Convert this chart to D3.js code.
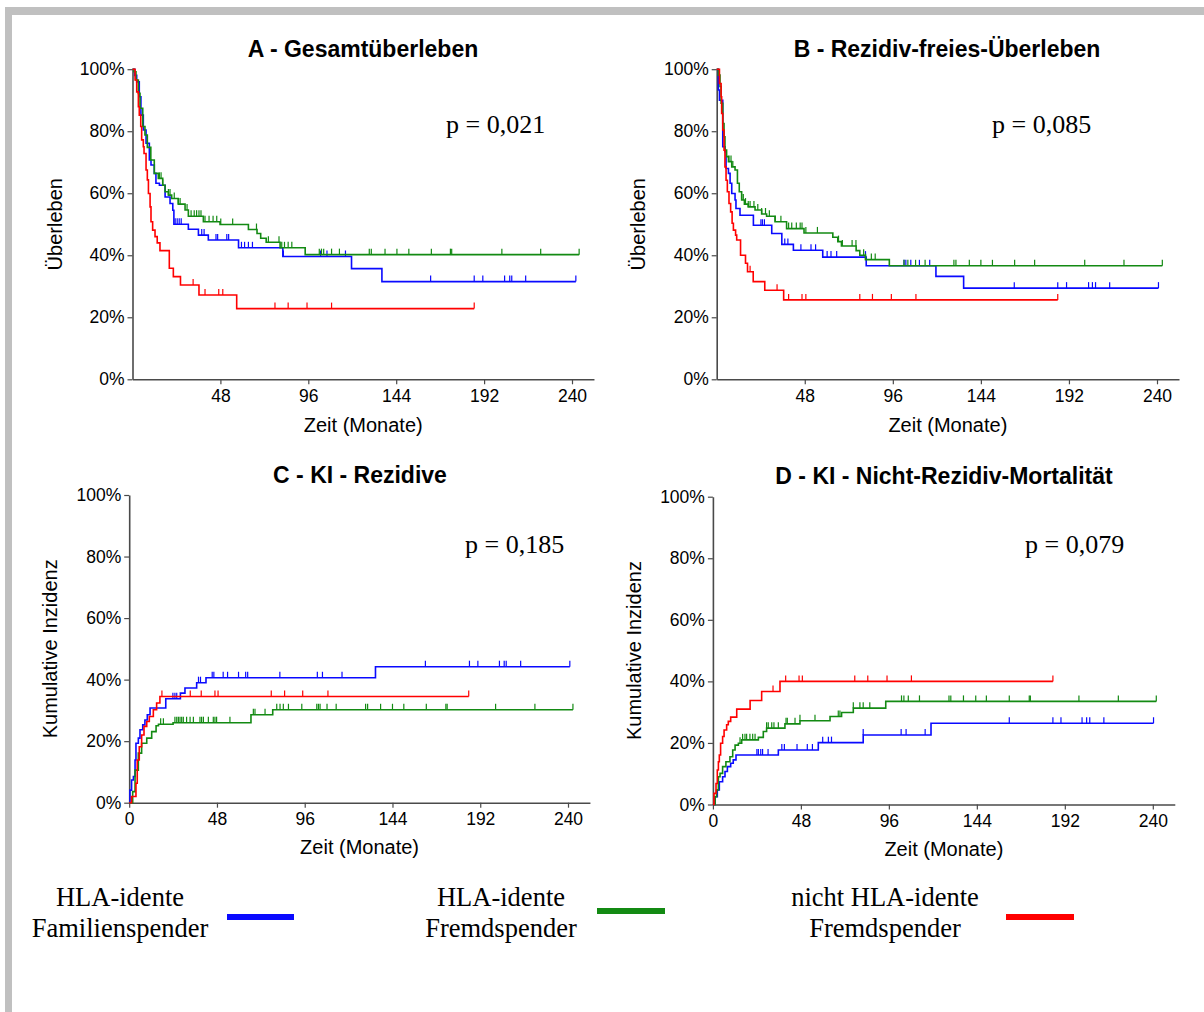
<!DOCTYPE html>
<html>
<head>
<meta charset="utf-8">
<script src="https://cdn.jsdelivr.net/npm/d3@7"></script>
<style>
body { margin: 0; background: #fff; }
svg text { font-family: "Liberation Sans", Arial, sans-serif; }
</style>
</head>
<body>
<svg id="chart" width="1204" height="1012"></svg>
<script>
// ---- data (months, percent) ----
var panelTitles = ["A - Gesamtüberleben", "B - Rezidiv-freies-Überleben", "C - KI - Rezidive", "D - KI - Nicht-Rezidiv-Mortalität"]
var pValues = ["p = 0,021", "p = 0,085", "p = 0,185", "p = 0,079"]
var yAxisTitles = ["Überleben", "Überleben", "Kumulative Inzidenz", "Kumulative Inzidenz"]
var xAxisTitle = "Zeit (Monate)"
var xTicksSurv = [48, 96, 144, 192, 240]
var xTicksInc = [0, 48, 96, 144, 192, 240]
var yTickValues = [0, 20, 40, 60, 80, 100]

var legendLabels = [["HLA-idente", "Familienspender"], ["HLA-idente", "Fremdspender"], ["nicht HLA-idente", "Fremdspender"]]
var seriesColors = ["#0a0aff", "#138a13", "#ff0000"]

// A - Gesamtueberleben
var aBlue = [[0,100],[1.2,98],[2.3,95.9],[3.7,91.1],[4.6,85.2],[5.9,80.4],[7.4,76.1],[9.2,70.7],[10.1,69.1],[11.9,66.4],[12.8,63.2],[14.7,62.6],[17.8,58.8],[20.5,56.7],[22,54.5],[22.6,50],[30.5,48.4],[36,46.5],[41.4,44.9],[57.9,42.4],[82.1,39.6],[119.6,35.7],[136.2,31.5],[242.1,31.5]]
var aGreen = [[0,100],[0.8,99.2],[1.9,96.5],[3.2,92.2],[4.1,87.4],[5.6,81.5],[6.8,78.8],[8.1,74.8],[10,70.7],[11.9,66.4],[14.1,64.8],[16.5,62.6],[17.8,60.5],[19.6,59.4],[21.4,58.3],[25,56.5],[28.7,54.6],[30.5,52.6],[38.7,50.8],[47.8,49.9],[63.3,48.3],[68,47],[70,45.5],[73,44.2],[80.6,42.4],[94.3,40.2],[243.9,40.2]]
var aRed = [[0,100],[1.4,96.5],[2.3,92.7],[3.2,87.9],[3.7,85.2],[4.5,81.5],[5,77.2],[5.9,75],[6.3,72.8],[7.4,67.5],[8.1,64.3],[8.7,59.9],[9.6,55.6],[10.1,50.8],[11,48.1],[12.3,46],[13.5,44],[15,41.5],[20.1,35.8],[22.3,33.1],[26.2,30.4],[36.3,27.2],[56.9,22.8],[186.6,22.8]]
var aBlueCens = [23.3,24.4,25.5,26.6,37.8,39.1,45.6,46.5,51.5,52.5,59.5,61.2,63.3,65.5,82.4,102.7,106.2,116.3,162.8,186.6,191.3,203.2,206,207.1,214.7,242.1]
var aGreenCens = [14.7,15.6,16.5,19.6,20.5,22.8,25,26,29.8,32,33.7,35,36.3,37.4,39.6,41.8,44,46,48.2,54.7,67.7,74.2,80,81.5,83,85,87,102,103.2,104.4,108.7,113,129.3,130.4,137.9,144.4,150.9,163.2,173.6,174.3,201.7,222.9,243.9]
var aRedCens = [33.1,39.6,47.1,49.3,77.8,85,95.3,108.7,186.6]

// B - Rezidiv-freies Ueberleben
var bBlue = [[0,100],[0.9,93.3],[1.5,90],[3.3,75],[4.5,73.4],[5.1,68],[6.4,66.4],[7.3,63.2],[8.2,59.9],[10,57.8],[10.5,55.1],[12.7,52.9],[20,49.7],[30,47],[35.5,43.5],[41.8,41.6],[57.8,39.4],[81.5,36.6],[119.5,33.2],[134.6,29.4],[240.8,29.4]]
var bGreen = [[0,100],[0.9,98.1],[1.8,94.4],[2.4,89],[3.3,82.5],[4,78.2],[4.5,73.9],[5.4,71.8],[6.4,70.2],[8.2,68.5],[10,67.5],[11.3,63.2],[12.3,60.5],[13.6,57.8],[15.1,56.5],[17.2,55.6],[20.9,54.6],[24.5,53.3],[27.2,52.6],[31.8,50.8],[38.1,48.6],[47.6,47.2],[63.3,45.8],[66,44.4],[68,43],[76,41.5],[78,40],[81.1,38.6],[94.1,36.6],[242.9,36.6]]
var bRed = [[0,100],[1.5,95.4],[2.4,91.1],[2.7,85.7],[3.3,80.4],[4,73.9],[4.5,68.5],[5.1,64.2],[5.8,60.5],[6.7,56.7],[7.6,54],[8.4,50.3],[9.1,48.1],[10.3,46.5],[10.9,44.9],[13,40],[15.7,37.4],[16.8,34.7],[19.9,31.5],[26.2,28.7],[36.5,25.6],[185.9,25.6]]
var bBlueCens = [24.1,24.9,26,37.1,38.8,45.9,51.4,53.9,60.2,62.3,65.4,81.1,102.1,103.1,105.8,110.5,116.1,162.2,185.9,190.7,202.7,204.8,206.5,214.2,240.8]
var bGreenCens = [6.7,7.8,8.8,13.6,14.5,15.7,17.2,18.2,20.3,22.4,24.5,26.6,28.7,31.9,35,39.2,40.9,43.4,45.5,46.5,48.6,54.9,66.4,68.5,73.8,75.9,80.1,81.1,84.3,86.4,102.1,104.2,108.4,113.6,129.3,130.4,137.7,144,150.3,162.4,173.3,200.6,222,242.9]
var bRedCens = [18.2,32.9,39.2,46.5,48.6,78,84.9,95.2,108.6,185.9]

// C - KI Rezidive
var cBlue = [[0,0],[0.4,4.1],[1.3,7.4],[2.3,8.5],[3.2,13.9],[3.7,19.3],[5,21],[5.9,23.7],[7.4,25.3],[8.6,26.9],[9.9,28.6],[11.4,30.8],[20,33.8],[28,35.6],[30.5,37.3],[36.9,39],[42,40.6],[134.7,44.2],[241,44.2]]
var cGreen = [[0,0],[1.9,3.6],[3.2,10.6],[5,16.1],[6.8,19.3],[9.6,21],[12.3,23.1],[14.7,25],[16,25.5],[24,26],[66.6,28.6],[78.5,30.2],[242.7,30.2]]
var cRed = [[0,0],[1.3,2],[3.7,6.3],[4.4,13.9],[5.5,18.2],[6.8,22],[8.1,24.8],[9.6,26.4],[11,28],[13.2,30.2],[15,32.4],[16.8,34.5],[185.7,34.5]]
var cBlueCens = [23.9,25,26,37.9,39,45.4,46.3,51.4,53.8,59.8,63.7,64.8,82.4,102.9,105.7,116.4,162,186.1,190.7,202.5,205.1,206.2,214.1,241]
var cGreenCens = [17.2,18.7,25,26,26.9,27.8,28.7,29.6,31.4,33.3,35.1,38.7,39.6,40.6,43.3,46,46.9,47.8,55.1,67.9,68.8,74.3,80.7,82.5,84.3,87.1,94.4,102.6,103.5,104.4,108.2,113.2,129.3,130.4,137.5,144,150.2,162.5,173.2,173.9,200.4,221.9,242.7]
var cRedCens = [17.9,33.4,39.4,46.9,48.6,77.7,85,94.9,108.7,185.7]

// D - KI Nicht-Rezidiv-Mortalitaet
var dBlue = [[0,0],[1.2,2.5],[2.4,4.7],[3.5,7.4],[5.3,9],[6.6,10.7],[7.9,12.3],[9.7,13.4],[11.1,14.5],[12.6,16.1],[35.7,17.7],[57.5,20.1],[82,22.6],[119,26.4],[240.4,26.4]]
var dGreen = [[0,0],[1.2,2.5],[2,4.7],[3,9],[3.9,10.1],[5.3,12.3],[7.1,13.9],[9.3,15.5],[10.8,17.7],[12.1,19.3],[13.9,19.9],[15.7,21],[24.8,21.8],[27.5,23.7],[29.3,24.8],[39.3,26.2],[47.5,27.2],[63.9,28.6],[70.2,29.9],[76.6,31.3],[94.3,33.5],[241.9,33.5]]
var dRed = [[0,0],[0.6,3.6],[1.7,6.8],[2.4,11.2],[3,13.9],[3.5,16.1],[4.2,19.9],[5.3,22.1],[6.1,24.2],[7.5,25.9],[8.4,27],[9.7,28.4],[13,31],[20.3,33.8],[26.6,36.7],[36.6,40],[185.5,40]]
var dBlueCens = [24,24.8,26.1,27.1,30.1,37.6,39,45.9,51.5,54.3,59.9,63,64.7,82,102.7,105.4,115.8,161.7,185.5,189.9,201.4,203.9,205.6,213.3,240.4]
var dGreenCens = [14.8,16.2,17.5,18.4,20.2,21.7,23,29.3,30.2,32.1,33.3,35.7,39.9,40.6,44.8,47.5,55.7,68.4,69.3,76.6,80.2,82,85.6,102.9,104.2,106.6,112.7,128.8,129.8,136.7,143.4,149.2,161.7,172.6,173.2,199.7,221.2,241.9]
var dRedCens = [32.8,39.7,47,48.8,77.4,84.5,95,108.3,185.5]

// ---- layout ----
var panels = [
    {x0: 132.5, x240: 572, yTop: 69.2, yBot: 379.3, xTicks: xTicksSurv, titleX: 363, titleY: 57, pX: 446, pY: 133, yLabX: 55, xLabY: 432,
     series: [aBlue, aGreen, aRed], cens: [aBlueCens, aGreenCens, aRedCens]},
    {x0: 716.7, x240: 1157, yTop: 69.2, yBot: 379.3, xTicks: xTicksSurv, titleX: 947, titleY: 57, pX: 992, pY: 133, yLabX: 638, xLabY: 432,
     series: [bBlue, bGreen, bRed], cens: [bBlueCens, bGreenCens, bRedCens]},
    {x0: 129.2, x240: 568, yTop: 495, yBot: 802.7, xTicks: xTicksInc, titleX: 360, titleY: 483, pX: 465, pY: 553, yLabX: 50, xLabY: 854,
     series: [cBlue, cGreen, cRed], cens: [cBlueCens, cGreenCens, cRedCens]},
    {x0: 712.9, x240: 1152.8, yTop: 496.7, yBot: 804.5, xTicks: xTicksInc, titleX: 944, titleY: 484, pX: 1025, pY: 553, yLabX: 634, xLabY: 856,
     series: [dBlue, dGreen, dRed], cens: [dBlueCens, dGreenCens, dRedCens]}
]

var svg = d3.select("#chart")

// grey frame
svg.append("rect").attr("x", 5).attr("y", 7).attr("width", 1199).attr("height", 8).attr("fill", "#c0c0c0")
svg.append("rect").attr("x", 5).attr("y", 7).attr("width", 7).attr("height", 1005).attr("fill", "#c0c0c0")

var axisColor = "#4a4a4a"

function valueAt(points, t) {
    var i = d3.bisector(function(d) { return d[0] }).right(points, t) - 1
    return points[Math.max(0, i)][1]
}

function drawPanel(cfg, idx) {
    var x = d3.scaleLinear().domain([0, 252]).range([cfg.x0, cfg.x0 + (cfg.x240 - cfg.x0) * 252 / 240])
    var y = d3.scaleLinear().domain([0, 100]).range([cfg.yBot, cfg.yTop])
    var g = svg.append("g").attr("id", "panel_" + idx)

    var xAxis = g.append("g")
        .attr("transform", "translate(0," + cfg.yBot + ")")
        .call(d3.axisBottom(x).tickValues(cfg.xTicks).tickSize(5).tickPadding(5).tickSizeOuter(0))
    var yAxis = g.append("g")
        .attr("transform", "translate(" + cfg.x0 + ",0)")
        .call(d3.axisLeft(y).tickValues(yTickValues).tickFormat(function(d) { return d + "%" })
            .tickSize(5).tickPadding(3).tickSizeOuter(0))

    ;[xAxis, yAxis].forEach(function(a) {
        a.attr("font-family", null).attr("font-size", null)
        a.select(".domain").attr("stroke", axisColor).attr("stroke-width", 1.6)
        a.selectAll(".tick line").attr("stroke", axisColor).attr("stroke-width", 1.2)
        a.selectAll(".tick text").attr("fill", "#000").style("font-size", "17.5px")
    })

    var line = d3.line()
        .x(function(d) { return x(d[0]) })
        .y(function(d) { return y(d[1]) })
        .curve(d3.curveStepAfter)

    cfg.series.forEach(function(pts, i) {
        g.append("path")
            .attr("d", line(pts))
            .attr("fill", "none")
            .attr("stroke", seriesColors[i])
            .attr("stroke-width", 1.6)

        g.append("g")
            .attr("stroke", seriesColors[i])
            .attr("stroke-width", 1.2)
            .selectAll("line")
            .data(cfg.cens[i])
            .enter()
            .append("line")
            .attr("x1", function(d) { return x(d) })
            .attr("x2", function(d) { return x(d) })
            .attr("y1", function(d) { return y(valueAt(pts, d)) })
            .attr("y2", function(d) { return y(valueAt(pts, d)) - 6 })
    })

    //titles
    g.append("text")
        .attr("x", cfg.titleX).attr("y", cfg.titleY)
        .attr("text-anchor", "middle")
        .style("font-size", "23px").style("font-weight", "bold")
        .text(panelTitles[idx])

    g.append("text")
        .attr("x", cfg.pX).attr("y", cfg.pY)
        .style("font-family", "'Liberation Serif', 'Times New Roman', serif")
        .style("font-size", "26px")
        .text(pValues[idx])

    g.append("text")
        .attr("x", x(126)).attr("y", cfg.xLabY)
        .attr("text-anchor", "middle")
        .style("font-size", "20px")
        .text(xAxisTitle)

    g.append("text")
        .attr("transform", "translate(" + cfg.yLabX + "," + ((cfg.yTop + cfg.yBot) / 2) + ") rotate(-90)")
        .attr("dy", "0.35em")
        .attr("text-anchor", "middle")
        .style("font-size", "20px")
        .text(yAxisTitles[idx])
}

panels.forEach(drawPanel)

// legend
var legendTextX = [120, 501, 885]
var legendLineX = [[227, 294], [597, 665], [1006, 1074]]
var legendLineY = [917, 911, 917]

var legend = svg.append("g").attr("id", "legend")
legendLabels.forEach(function(lbl, i) {
    var t = legend.append("text")
        .attr("text-anchor", "middle")
        .style("font-family", "'Liberation Serif', 'Times New Roman', serif")
        .style("font-size", "26.5px")
    t.append("tspan").attr("x", legendTextX[i]).attr("y", 906).text(lbl[0])
    t.append("tspan").attr("x", legendTextX[i]).attr("y", 937).text(lbl[1])

    legend.append("line")
        .attr("x1", legendLineX[i][0]).attr("x2", legendLineX[i][1])
        .attr("y1", legendLineY[i]).attr("y2", legendLineY[i])
        .attr("stroke", seriesColors[i])
        .attr("stroke-width", 6)
})
</script>
</body>
</html>
